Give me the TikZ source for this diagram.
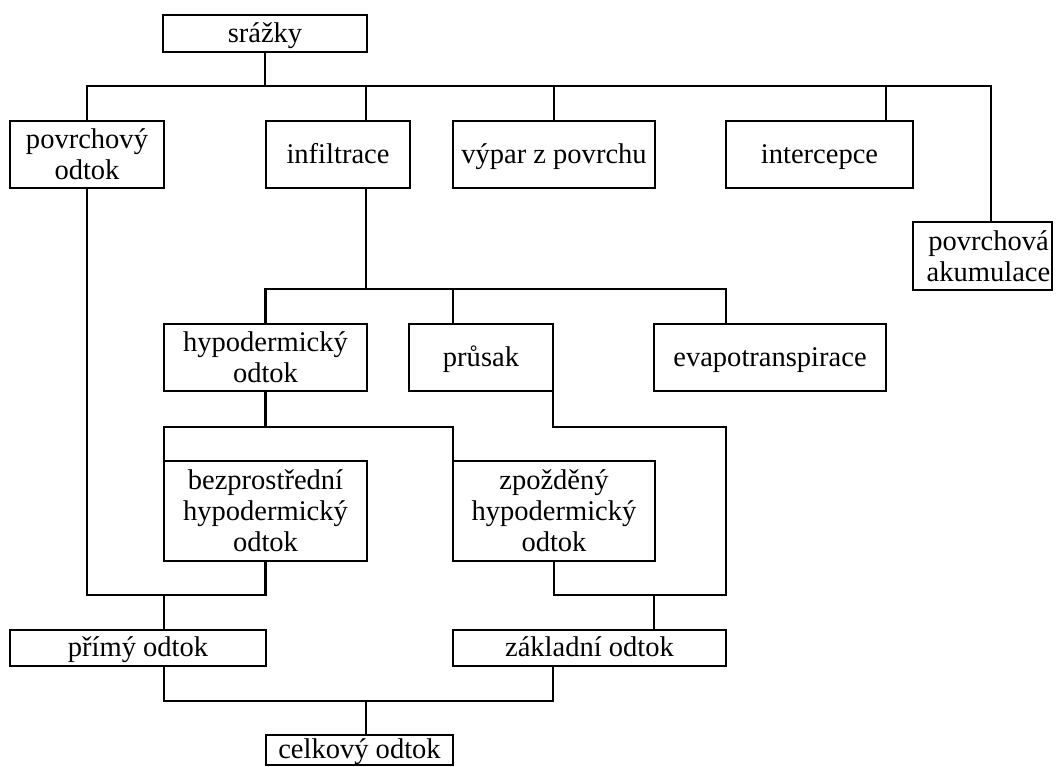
\documentclass[tikz,border=0pt]{standalone}
\usepackage{fontspec}
\setmainfont{Liberation Serif}
\begin{document}
\begin{tikzpicture}[x=0.75pt,y=-0.75pt,
  box/.style={draw, line width=2.1pt, inner sep=0pt, outer sep=0pt, align=center,
    font=\fontsize{21.4}{23.3}\selectfont},
  one/.style={text height=15pt, text depth=2pt},
  wire/.style={line width=2.1pt}]
\useasboundingbox (0,0) rectangle (1057,767);
% nodes
\node[box, one, minimum width=153pt,   minimum height=27.75pt] (sr)  at (265,33.5)   {srážky};
\node[box, minimum width=115.5pt, minimum height=50.25pt] (pov) at (87,154.5)   {povrchový\\odtok};
\node[box, one, minimum width=108pt,   minimum height=50.25pt] (inf) at (338,154.5)  {infiltrace};
\node[box, one, minimum width=151.5pt, minimum height=50.25pt] (vyp) at (554,154.5)  {výpar z povrchu};
\node[box, one, minimum width=140.25pt,minimum height=50.25pt] (int) at (819.5,154.5){intercepce};
\node[box, minimum width=104.25pt,minimum height=51pt]    (aku) at (982.5,256)  {\hspace*{9pt}povrchová\\\hspace*{9pt}akumulace};
\node[box, minimum width=152.25pt,minimum height=50.25pt] (hyp) at (265.5,357.5){hypodermický\\odtok};
\node[box, one, minimum width=108pt,   minimum height=50.25pt] (pru) at (481,357.5)  {průsak};
\node[box, one, minimum width=174pt,   minimum height=50.25pt] (eva) at (770,357.5)  {evapotranspirace};
\node[box, minimum width=152.25pt,minimum height=75pt]    (bez) at (265.5,511)  {bezprostřední\\hypodermický\\odtok};
\node[box, minimum width=151.5pt, minimum height=75pt]    (zpo) at (554,511)    {zpožděný\\hypodermický\\odtok};
\node[box, one, minimum width=192pt,   minimum height=27pt]    (pri) at (138,648)    {přímý odtok};
\node[box, one, minimum width=204.75pt,minimum height=27pt]    (zak) at (589.5,648)  {základní odtok};
\node[box, one, minimum width=140.25pt,minimum height=22.5pt]  (cel) at (359.5,750)  {celkový odtok};
% connection points on box edges
\coordinate (iT) at (366,121);
\coordinate (iB) at (366,188);
\coordinate (nT) at (886,121);
\coordinate (aT) at (991,222);
\coordinate (eT) at (726,324);
\coordinate (rT) at (453,324);
\coordinate (pr) at (726,427);
\coordinate (zT) at (654,630);
\coordinate (pT) at (164,630);
\coordinate (pB) at (164,666);
\coordinate (zB) at (553,666);
\coordinate (cT) at (366,735);
% bus levels
\coordinate (bus1) at (0,86);
\coordinate (bus2) at (0,289);
\coordinate (bus3) at (0,427);
\coordinate (bus4) at (0,595);
\coordinate (bus5) at (0,701);
% connectors
\draw[wire] (sr.south) -- (sr.south |- bus1);
\draw[wire] (pov.north) |- (bus1 -| aT) -- (aT);
\draw[wire] (iT) -- (iT |- bus1);
\draw[wire] (vyp.north) -- (vyp.north |- bus1);
\draw[wire] (nT) -- (nT |- bus1);
\draw[wire] (iB) -- (iB |- bus2);
\draw[wire] (hyp.north) |- (bus2 -| eT) -- (eT);
\draw[wire] (rT) -- (rT |- bus2);
\draw[wire] (hyp.south) -- (hyp.south |- bus3);
\draw[wire] (bez.north west) |- (bus3 -| zpo.north west) -- (zpo.north west);
\draw[wire] (pru.south east) |- (pr) |- (bus4 -| zpo.south) -- (zpo.south);
\draw[wire] (zT) -- (zT |- bus4);
\draw[wire] (pov.south) |- (bus4 -| bez.south) -- (bez.south);
\draw[wire] (pT) -- (pT |- bus4);
\draw[wire] (pB) |- (bus5 -| zB) -- (zB);
\draw[wire] (cT) -- (cT |- bus5);
\end{tikzpicture}
\end{document}
